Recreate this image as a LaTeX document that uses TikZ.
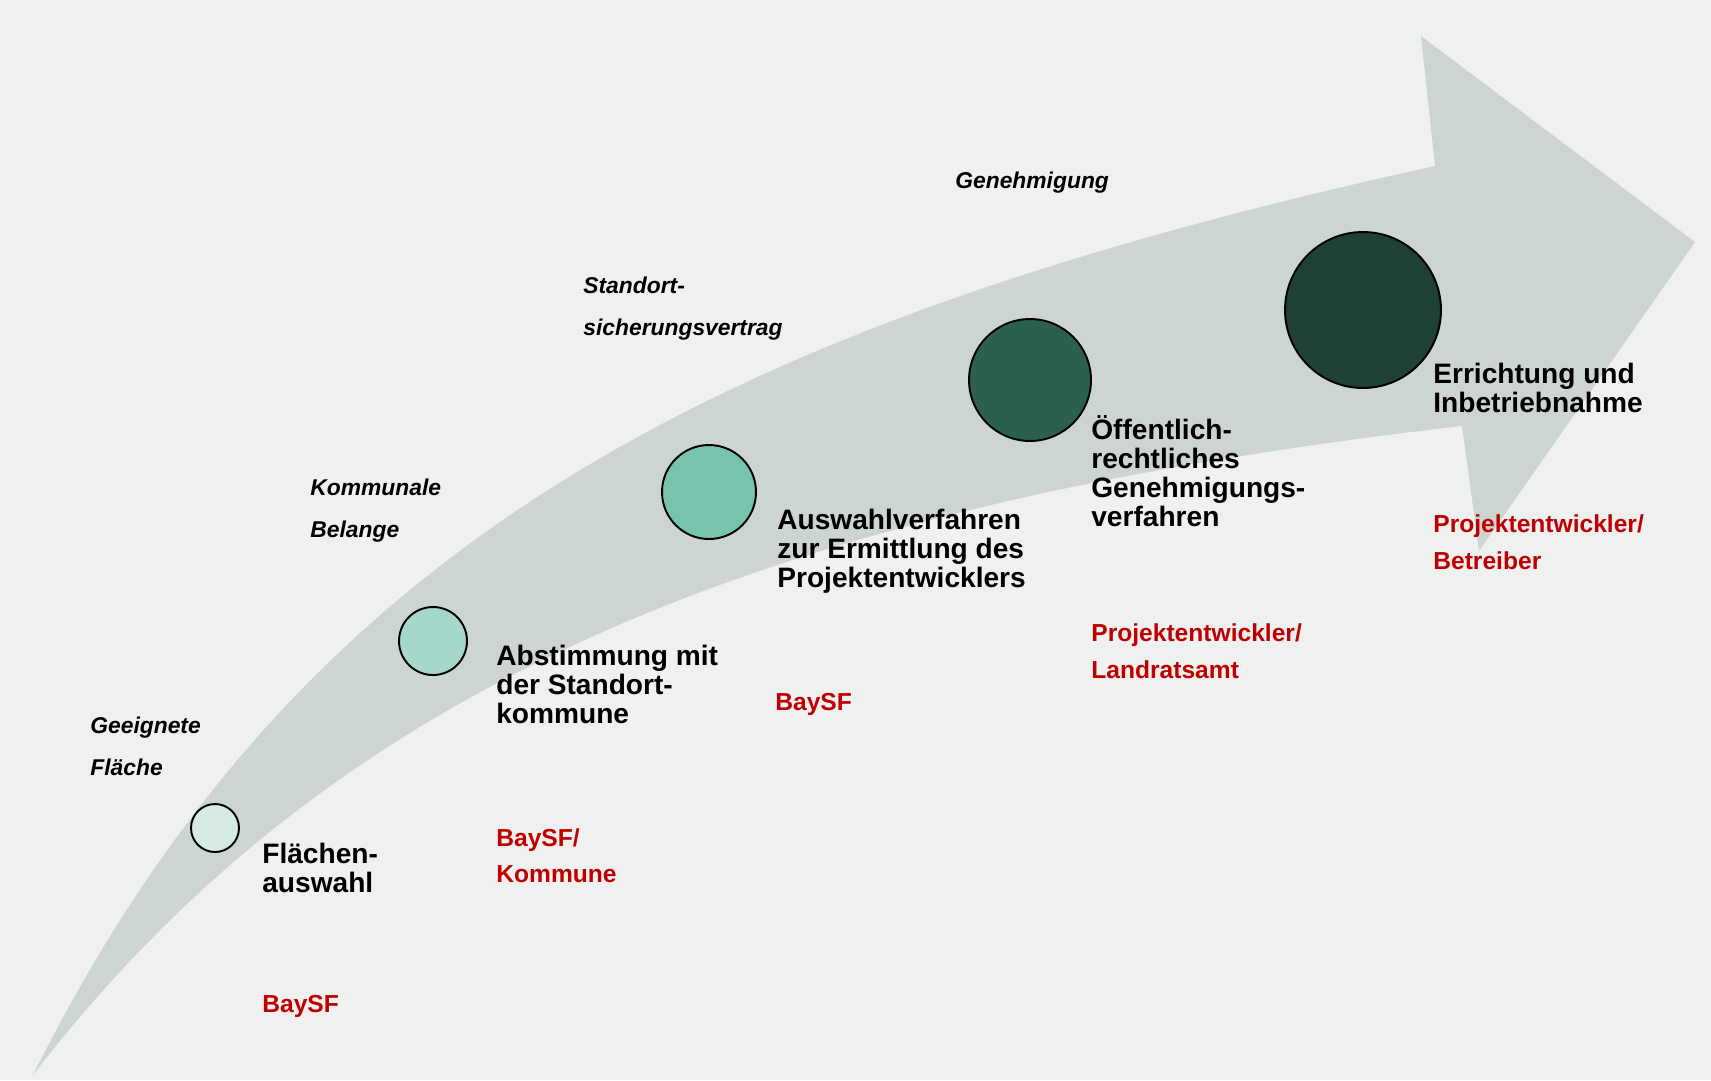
\documentclass[tikz,border=0pt]{standalone}
\usepackage{fontspec}
\setmainfont{Liberation Sans}
\usepackage{tikz}
\definecolor{bggrey}{HTML}{EFF1F0}
\definecolor{arrowgrey}{HTML}{CDD5D2}
\definecolor{stageA}{HTML}{D5EBE4}
\definecolor{stageB}{HTML}{A5D8CA}
\definecolor{stageC}{HTML}{78C3AD}
\definecolor{stageD}{HTML}{2B5F4F}
\definecolor{stageE}{HTML}{1E4036}
\definecolor{actorred}{HTML}{C00000}

\begin{document}
\begin{tikzpicture}[x=0.02cm,y=-0.02cm,
    stage/.style={circle,draw=black,line width=1.1pt,inner sep=0pt},
    steplabel/.style={anchor=base west,inner sep=0pt,align=left,font=\fontsize{16}{16.5}\selectfont\bfseries},
    topic/.style={anchor=base west,inner sep=0pt,align=left,font=\fontsize{13}{23.9}\selectfont\bfseries\itshape},
    actor/.style={anchor=base west,inner sep=0pt,align=left,text=actorred,font=\fontsize{14}{20.5}\selectfont\bfseries}]
        \fill[bggrey] (0,0) rectangle (1711,1080);
        \fill[arrowgrey] (33,1075) .. controls (300,540) and (720,323) .. (1435,166) -- (1421,36) -- (1695,242)
            -- (1479,551) -- (1462,426) .. controls (762,506) and (333,685) .. (33,1075) -- cycle;
        \foreach \n/\x/\y/\d/\col in {1/215/828/0.96/stageA,2/433/641/1.36/stageB,3/709/492/1.88/stageC,
            4/1030/380/2.44/stageD,5/1363/310/3.12/stageE}{\node[stage,minimum size=\d cm,fill=\col] (s\n) at (\x,\y) {};}
        % anchors sit on the last line of each label
        \node[topic] (t1) at (90,775) {Geeignete\\Fläche};
        \node[topic] (t2) at (310,537) {Kommunale\\Belange};
        \node[topic] (t3) at (583,335) {Standort-\\sicherungsvertrag};
        \node[topic] (t4) at (955,188) {Genehmigung};
        \node[steplabel] (l1) at (262,892) {Flächen-\\auswahl};
        \node[steplabel] (l2) at (496,723) {Abstimmung mit\\der Standort-\\kommune};
        \node[steplabel] (l3) at (777,587) {Auswahlverfahren\\zur Ermittlung des\\Projektentwicklers};
        \node[steplabel] (l4) at (1091,526) {Öffentlich-\\rechtliches\\Genehmigungs-\\verfahren};
        \node[steplabel] (l5) at (1433,412) {Errichtung und\\Inbetriebnahme};
        \node[actor] (a1) at (262,1012) {BaySF};
        \node[actor] (a2) at (496,882) {BaySF/\\Kommune};
        \node[actor] (a3) at (775,710) {BaySF};
        \node[actor] (a4) at (1091,678) {Projektentwickler/\\Landratsamt};
        \node[actor] (a5) at (1433,569) {Projektentwickler/\\Betreiber};
      \end{tikzpicture}
\end{document}
